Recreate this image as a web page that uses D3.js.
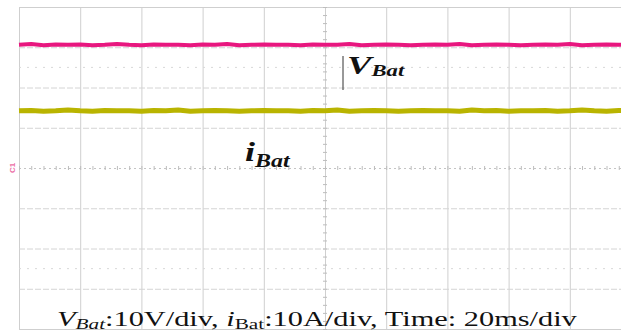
<!DOCTYPE html>
<html><head><meta charset="utf-8">
<script src="https://cdn.jsdelivr.net/npm/d3@7"></script>
<style>html,body{margin:0;padding:0;background:#fff;overflow:hidden}</style>
</head><body>
<svg id="c" width="621" height="333"></svg>
<script>
// time samples (ms), 20 ms/div, 10 divisions
const timeMs = d3.range(0, 201, 4);
// battery voltage (V), 10 V/div
const vBat = [30.6,30.8,30.5,30.7,30.6,30.7,30.5,30.6,30.8,30.6,30.5,30.7,30.6,30.6,30.5,30.7,30.6,30.8,30.5,30.6,30.7,30.6,30.6,30.5,30.7,30.6,30.6,30.8,30.5,30.6,30.7,30.6,30.5,30.6,30.7,30.6,30.8,30.5,30.6,30.7,30.6,30.5,30.6,30.7,30.6,30.8,30.5,30.6,30.7,30.6,30.6];
// battery current (A), 10 A/div
const iBat = [14.2,14.3,14.1,14.2,14.4,14.2,14.1,14.3,14.2,14.2,14.1,14.3,14.2,14.4,14.1,14.2,14.3,14.2,14.1,14.2,14.3,14.2,14.2,14.1,14.3,14.2,14.4,14.1,14.2,14.3,14.2,14.1,14.2,14.3,14.2,14.2,14.1,14.4,14.2,14.3,14.1,14.2,14.2,14.3,14.1,14.2,14.4,14.2,14.1,14.3,14.2];
const xTicks = d3.range(0, 201, 20);
const yTicks = d3.range(-40, 41, 10);

const svg = d3.select('#c');
svg.append('rect').attr('width',621).attr('height',333).attr('fill','#fff');

const x = d3.scaleLinear().domain([0,200]).range([19,631]);
const y = d3.scaleLinear().domain([-40,40]).range([329,7]);

const gridCol = '#cfcfcf';
// vertical grid lines
const gx = svg.append('g').attr('transform',`translate(0,${y(-40)})`)
  .call(d3.axisBottom(x).tickValues(xTicks).tickSize(-(y(-40)-y(40))).tickFormat(''));
gx.select('.domain').remove();
gx.selectAll('line').attr('stroke',gridCol).attr('stroke-width',1);
// horizontal grid lines
const gy = svg.append('g').attr('transform',`translate(${x(0)},0)`)
  .call(d3.axisLeft(y).tickValues(yTicks).tickSize(-(x(200)-x(0))).tickFormat(''));
gy.select('.domain').remove();
gy.selectAll('line').attr('stroke','#d4d4d4').attr('stroke-width',1).attr('stroke-dasharray','6,2');
gy.selectAll('.tick').filter(d=>d===40||d===-40).select('line').attr('stroke','#cfcfcf').attr('stroke-dasharray',null);
gy.selectAll('.tick').filter(d=>d===0).select('line').attr('stroke','#c4c4c4').attr('stroke-dasharray','2,3');
// faint dotted marker lines
[25,-25].forEach(v=>{
  svg.append('line').attr('x1',x(0)).attr('x2',x(200)).attr('y1',y(v)).attr('y2',y(v))
    .attr('stroke','#d8d8d8').attr('stroke-dasharray','2,6');
});
// minor ticks on centre crosshair
const mx = svg.append('g').attr('transform',`translate(0,${y(0)-2})`)
  .call(d3.axisBottom(x).tickValues(d3.range(0,201,4)).tickSize(4).tickFormat(''));
mx.select('.domain').remove();
mx.selectAll('line').attr('stroke','#bdbdbd');
const my = svg.append('g').attr('transform',`translate(${x(100)-2},0)`)
  .call(d3.axisRight(y).tickValues(d3.range(-40,41,2)).tickSize(4).tickFormat(''));
my.select('.domain').remove();
my.selectAll('line').attr('stroke','#bdbdbd');

// traces
const line = vals => d3.line().x((d,i)=>x(timeMs[i])).y(d=>y(d))(vals);
svg.append('path').attr('d',line(vBat)).attr('fill','none')
  .attr('stroke','#e8177f').attr('stroke-width',4).attr('stroke-linejoin','round');
svg.append('path').attr('d',line(iBat)).attr('fill','none')
  .attr('stroke','#b9b400').attr('stroke-width',5).attr('stroke-linejoin','round');

// channel marker
svg.append('text').attr('transform',`translate(15,${y(0)}) rotate(-90)`)
  .attr('text-anchor','middle').attr('font-family','Liberation Sans, Arial')
  .attr('font-size',8).attr('font-weight','bold').attr('fill','#ec6fa6').text('C1');

const serif = "'Liberation Serif','Times New Roman',serif";
function stretch(sel, x0, width){
  const w = sel.node().getBBox().width;
  const s = width / w;
  sel.attr('transform',`translate(${x0},0) scale(${s},1) translate(${-x0},0)`);
}
// V_Bat label
svg.append('line').attr('x1',343).attr('x2',343).attr('y1',56).attr('y2',90)
  .attr('stroke','#333').attr('stroke-width',1);
const tv = svg.append('text').attr('x',347).attr('y',74).attr('font-family',serif)
  .attr('font-weight','bold').attr('font-style','italic').attr('fill','#111');
tv.append('tspan').attr('font-size',26).text('V');
tv.append('tspan').attr('font-size',16).attr('dy',2).text('Bat');
stretch(tv, 347, 58);
// i_Bat label
const ti = svg.append('text').attr('x',245).attr('y',161).attr('font-family',serif)
  .attr('font-weight','bold').attr('font-style','italic').attr('fill','#111');
ti.append('tspan').attr('font-size',27).text('i');
ti.append('tspan').attr('font-size',18).attr('dy',6).text('Bat');
stretch(ti, 245, 46);

// caption
const tc = svg.append('text').attr('x',57).attr('y',326).attr('font-family',serif)
  .attr('font-size',20).attr('fill','#111');
tc.append('tspan').attr('font-style','italic').text('V');
tc.append('tspan').attr('font-style','italic').attr('font-size',14).attr('dy',3).text('Bat');
tc.append('tspan').attr('dy',-3).text(':10V/div, ');
tc.append('tspan').attr('font-style','italic').text('i');
tc.append('tspan').attr('font-size',14).attr('dy',3).text('Bat');
tc.append('tspan').attr('dy',-3).text(':10A/div, Time: 20ms/div');
stretch(tc, 57, 520);
</script>
</body></html>
